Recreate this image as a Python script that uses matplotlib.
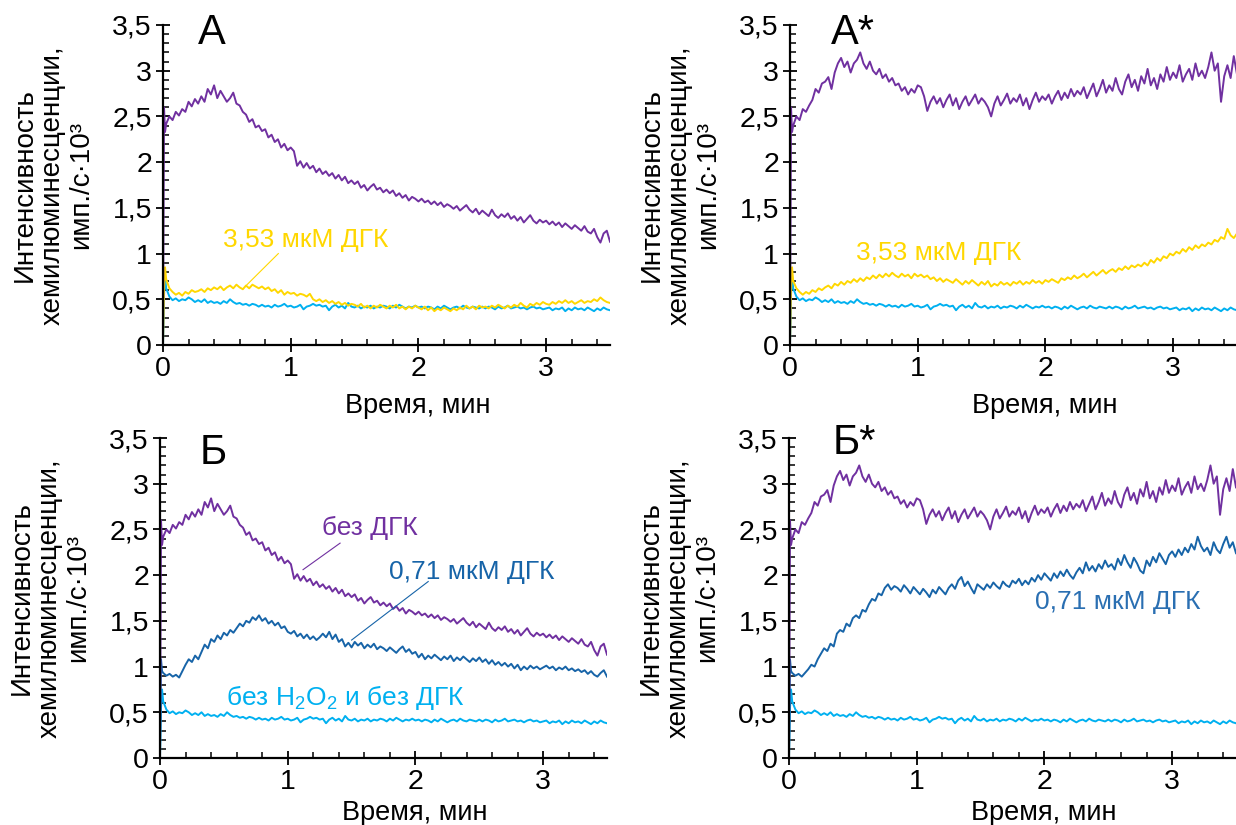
import numpy as np
import matplotlib
matplotlib.use("Agg")
import matplotlib.pyplot as plt
from matplotlib.ticker import MultipleLocator, FuncFormatter

plt.rcParams['font.family'] = ['Liberation Sans', 'DejaVu Sans']
plt.rcParams['mathtext.fontset'] = 'custom'
plt.rcParams['mathtext.rm'] = 'Liberation Sans'
plt.rcParams['mathtext.it'] = 'Liberation Sans'

# time, min: start of the record, then a regular 0.025 min grid
t_head = [0.0, 0.008, 0.016]
t_grid = np.round(np.arange(0.025, 3.5001, 0.025), 3)
t = np.concatenate([t_head, t_grid])

# chemiluminescence, imp/s*10^3
purple_a = [0.05, 2.60, 2.33,
    2.42, 2.50, 2.46, 2.55, 2.51, 2.58, 2.55, 2.66, 2.61, 2.69,
    2.64, 2.72, 2.66, 2.80, 2.74, 2.84, 2.70, 2.78, 2.72, 2.66,
    2.70, 2.76, 2.64, 2.62, 2.55, 2.52, 2.44, 2.47, 2.38, 2.40,
    2.34, 2.36, 2.27, 2.30, 2.22, 2.25, 2.16, 2.20, 2.13, 2.16,
    2.12, 1.96, 2.01, 1.94, 1.99, 1.93, 1.96, 1.89, 1.93, 1.87,
    1.90, 1.85, 1.88, 1.82, 1.86, 1.80, 1.84, 1.77, 1.80, 1.76,
    1.79, 1.72, 1.75, 1.69, 1.73, 1.76, 1.70, 1.72, 1.67, 1.70,
    1.66, 1.69, 1.63, 1.66, 1.61, 1.64, 1.58, 1.62, 1.60, 1.57,
    1.60, 1.56, 1.58, 1.54, 1.57, 1.53, 1.56, 1.51, 1.54, 1.52,
    1.49, 1.52, 1.47, 1.50, 1.53, 1.48, 1.45, 1.49, 1.43, 1.47,
    1.44, 1.41, 1.48, 1.42, 1.39, 1.43, 1.40, 1.44, 1.38, 1.41,
    1.36, 1.40, 1.34, 1.38, 1.42, 1.36, 1.33, 1.37, 1.34, 1.36,
    1.32, 1.35, 1.31, 1.34, 1.29, 1.33, 1.30, 1.27, 1.31, 1.28,
    1.25, 1.30, 1.24, 1.22, 1.27, 1.18, 1.12, 1.22, 1.25, 1.13]

yellow_a = [0.02, 0.60, 0.85,
    0.72, 0.62, 0.58, 0.55, 0.57, 0.54, 0.58, 0.56, 0.60, 0.58,
    0.59, 0.61, 0.58, 0.62, 0.60, 0.63, 0.61, 0.64, 0.60, 0.63,
    0.65, 0.62, 0.66, 0.63, 0.61, 0.65, 0.62, 0.66, 0.64, 0.62,
    0.64, 0.61, 0.63, 0.59, 0.61, 0.57, 0.60, 0.55, 0.58, 0.56,
    0.57, 0.54, 0.56, 0.55, 0.53, 0.56, 0.50, 0.48, 0.50, 0.47,
    0.49, 0.46, 0.48, 0.45, 0.47, 0.44, 0.46, 0.43, 0.45, 0.44,
    0.42, 0.45, 0.41, 0.43, 0.40, 0.43, 0.41, 0.44, 0.42, 0.40,
    0.43, 0.41, 0.44, 0.40, 0.42, 0.39, 0.42, 0.40, 0.43, 0.41,
    0.39, 0.42, 0.38, 0.41, 0.37, 0.40, 0.38, 0.41, 0.39, 0.37,
    0.40, 0.38, 0.41, 0.39, 0.43, 0.40, 0.42, 0.39, 0.43, 0.41,
    0.42, 0.40, 0.43, 0.41, 0.44, 0.42, 0.40, 0.43, 0.41, 0.44,
    0.42, 0.46, 0.43, 0.41, 0.45, 0.43, 0.46, 0.44, 0.47, 0.45,
    0.44, 0.47, 0.45, 0.48, 0.46, 0.49, 0.46, 0.48, 0.45, 0.47,
    0.49, 0.46, 0.48, 0.47, 0.50, 0.48, 0.52, 0.49, 0.47, 0.46]

lightblue = [0.0, 0.55, 0.75,
    0.62, 0.53, 0.49, 0.51, 0.48, 0.50, 0.49, 0.52, 0.50, 0.47,
    0.49, 0.47, 0.50, 0.46, 0.48, 0.46, 0.47, 0.45, 0.48, 0.46,
    0.50, 0.47, 0.45, 0.46, 0.44, 0.45, 0.43, 0.45, 0.44, 0.42,
    0.44, 0.42, 0.43, 0.41, 0.44, 0.42, 0.43, 0.45, 0.42, 0.43,
    0.41, 0.42, 0.44, 0.39, 0.42, 0.43, 0.45, 0.43, 0.44, 0.42,
    0.43, 0.38, 0.42, 0.44, 0.41, 0.43, 0.40, 0.46, 0.42, 0.41,
    0.43, 0.40, 0.42, 0.41, 0.43, 0.40, 0.42, 0.41, 0.43, 0.42,
    0.40, 0.43, 0.41, 0.44, 0.42, 0.40, 0.42, 0.41, 0.43, 0.41,
    0.42, 0.40, 0.42, 0.41, 0.39, 0.42, 0.40, 0.43, 0.41, 0.39,
    0.41, 0.42, 0.40, 0.43, 0.41, 0.40, 0.42, 0.41, 0.40, 0.42,
    0.40, 0.42, 0.41, 0.39, 0.42, 0.40, 0.41, 0.43, 0.40, 0.41,
    0.42, 0.40, 0.41, 0.39, 0.41, 0.42, 0.40, 0.41, 0.39, 0.40,
    0.41, 0.38, 0.40, 0.39, 0.41, 0.37, 0.40, 0.38, 0.41, 0.39,
    0.40, 0.38, 0.41, 0.39, 0.37, 0.40, 0.38, 0.41, 0.39, 0.38]

purple_as = [0.05, 2.60, 2.33,
    2.40, 2.50, 2.46, 2.58, 2.55, 2.62, 2.68, 2.80, 2.76, 2.86,
    2.88, 2.93, 2.80, 2.98, 3.08, 3.14, 3.04, 3.10, 2.98, 3.08,
    3.12, 3.20, 3.08, 3.02, 3.10, 3.00, 2.96, 3.02, 2.92, 2.96,
    2.88, 2.92, 2.84, 2.86, 2.78, 2.82, 2.74, 2.80, 2.76, 2.84,
    2.82, 2.72, 2.56, 2.66, 2.72, 2.64, 2.70, 2.60, 2.68, 2.74,
    2.62, 2.70, 2.58, 2.66, 2.72, 2.62, 2.68, 2.74, 2.64, 2.70,
    2.66, 2.60, 2.50, 2.64, 2.72, 2.62, 2.68, 2.75, 2.64, 2.70,
    2.66, 2.74, 2.62, 2.70, 2.58, 2.68, 2.76, 2.66, 2.72, 2.68,
    2.74, 2.64, 2.72, 2.78, 2.68, 2.76, 2.70, 2.80, 2.72, 2.78,
    2.74, 2.82, 2.70, 2.78, 2.86, 2.72, 2.80, 2.90, 2.76, 2.84,
    2.78, 2.92, 2.80, 2.74, 2.88, 2.96, 2.82, 2.90, 2.78, 2.94,
    2.86, 3.02, 2.84, 2.92, 2.80, 2.96, 2.88, 3.04, 2.90, 2.98,
    2.92, 3.06, 2.88, 2.96, 3.02, 2.90, 3.08, 2.94, 3.00, 2.92,
    3.04, 3.20, 3.00, 3.08, 2.66, 2.94, 3.06, 2.92, 3.16, 2.96]

yellow_as = [0.02, 0.60, 0.85,
    0.70, 0.62, 0.58, 0.55, 0.58, 0.56, 0.60, 0.58, 0.62, 0.60,
    0.63, 0.65, 0.62, 0.67, 0.65, 0.69, 0.66, 0.70, 0.68, 0.72,
    0.69, 0.73, 0.70, 0.74, 0.72, 0.76, 0.73, 0.77, 0.74, 0.78,
    0.75, 0.79, 0.76, 0.74, 0.78, 0.75, 0.77, 0.73, 0.78, 0.75,
    0.77, 0.74, 0.76, 0.72, 0.74, 0.70, 0.73, 0.69, 0.72, 0.70,
    0.68, 0.72, 0.69, 0.66, 0.70, 0.67, 0.71, 0.68, 0.65, 0.69,
    0.66, 0.70, 0.64, 0.67, 0.65, 0.69, 0.66, 0.68, 0.65, 0.69,
    0.67, 0.70, 0.66, 0.69, 0.67, 0.71, 0.68, 0.70, 0.67, 0.71,
    0.69, 0.72, 0.70, 0.68, 0.73, 0.71, 0.74, 0.72, 0.76, 0.73,
    0.75, 0.78, 0.74, 0.77, 0.80, 0.76, 0.79, 0.82, 0.78, 0.81,
    0.83, 0.80, 0.84, 0.82, 0.86, 0.83, 0.87, 0.85, 0.88, 0.86,
    0.90, 0.87, 0.93, 0.90, 0.95, 0.92, 0.97, 0.95, 1.00, 0.98,
    1.02, 1.00, 1.05, 1.02, 1.07, 1.04, 1.09, 1.06, 1.10, 1.08,
    1.12, 1.10, 1.15, 1.13, 1.18, 1.16, 1.27, 1.20, 1.17, 1.22]

darkblue_b = [0.05, 1.08, 0.95,
    0.93, 0.90, 0.92, 0.89, 0.91, 0.88, 0.95, 1.02, 1.08, 1.05,
    1.12, 1.08, 1.16, 1.24, 1.20, 1.30, 1.27, 1.34, 1.30, 1.37,
    1.34, 1.40, 1.37, 1.42, 1.47, 1.44, 1.50, 1.48, 1.54, 1.51,
    1.56, 1.50, 1.53, 1.47, 1.50, 1.45, 1.48, 1.42, 1.44, 1.38,
    1.36, 1.39, 1.33, 1.36, 1.31, 1.35, 1.30, 1.33, 1.29, 1.32,
    1.36, 1.32, 1.38, 1.30, 1.35, 1.27, 1.30, 1.22, 1.26, 1.21,
    1.27, 1.23, 1.26, 1.20, 1.24, 1.21, 1.25, 1.19, 1.22, 1.20,
    1.17, 1.21, 1.18, 1.15, 1.19, 1.22, 1.16, 1.19, 1.14, 1.16,
    1.10, 1.14, 1.08, 1.12, 1.09, 1.13, 1.10, 1.07, 1.11, 1.08,
    1.12, 1.06, 1.10, 1.07, 1.11, 1.08, 1.05, 1.09, 1.06, 1.10,
    1.05, 1.08, 1.03, 1.07, 1.02, 1.05, 1.01, 1.04, 1.00, 1.03,
    0.98, 1.02, 0.96, 1.00, 0.97, 1.01, 0.98, 1.00, 0.97, 0.99,
    1.01, 0.98, 1.00, 0.96, 0.99, 0.97, 1.00, 0.96, 0.98, 0.95,
    0.97, 0.94, 0.96, 0.92, 0.95, 0.91, 0.89, 0.93, 0.96, 0.89]

darkblue_bs = [0.05, 1.08, 0.95,
    0.93, 0.90, 0.92, 0.89, 0.93, 0.97, 1.02, 1.00, 1.08, 1.14,
    1.20, 1.17, 1.25, 1.22, 1.36, 1.40, 1.38, 1.47, 1.44, 1.53,
    1.56, 1.53, 1.62, 1.60, 1.68, 1.74, 1.72, 1.80, 1.78, 1.86,
    1.90, 1.84, 1.88, 1.86, 1.82, 1.89, 1.85, 1.80, 1.87, 1.83,
    1.79, 1.85, 1.81, 1.76, 1.84, 1.80, 1.87, 1.83, 1.79, 1.86,
    1.90, 1.85, 1.94, 1.98, 1.88, 1.93, 1.86, 1.80, 1.90, 1.87,
    1.84, 1.90, 1.86, 1.92, 1.88, 1.85, 1.93, 1.89, 1.87, 1.94,
    1.91, 1.96, 1.89, 1.94, 1.90, 1.97, 1.93, 2.00, 1.95, 2.02,
    1.98, 1.94, 2.02, 1.97, 2.04, 1.99, 2.06, 2.00, 1.96, 2.03,
    2.08, 2.02, 2.14, 2.05, 2.10, 2.04, 2.12, 2.07, 2.16, 2.09,
    2.12, 2.06, 2.18, 2.11, 2.22, 2.14, 2.08, 2.19, 2.13, 2.05,
    2.02, 2.16, 2.10, 2.20, 2.14, 2.24, 2.18, 2.12, 2.22, 2.26,
    2.20, 2.28, 2.22, 2.30, 2.25, 2.34, 2.28, 2.42, 2.32, 2.26,
    2.30, 2.22, 2.36, 2.28, 2.24, 2.34, 2.42, 2.30, 2.36, 2.24]

c_purple = '#7030A0'
c_yellow = '#FFD700'
c_light = '#00B0F0'
c_dark = '#1764A8'

W, H = 1236, 825
fig = plt.figure(figsize=(W / 100, H / 100), dpi=100)

def make_axes(left_px, zero_px, top_px):
    w = 447
    return fig.add_axes([left_px / W, 1 - zero_px / H, w / W, (zero_px - top_px) / H])

ax_a = make_axes(163, 345, 25)
ax_as = make_axes(790, 345, 25)
ax_b = make_axes(160, 758, 438)
ax_bs = make_axes(789, 758, 438)

comma = FuncFormatter(lambda v, pos: f"{v:g}".replace('.', ','))
lw = 1.4

for ax in (ax_a, ax_as, ax_b, ax_bs):
    ax.set_xlim(0, 3.5)
    ax.set_ylim(0, 3.5)
    for s in ('top', 'right'):
        ax.spines[s].set_visible(False)
    for s in ('left', 'bottom'):
        ax.spines[s].set_linewidth(1.6)
    ax.xaxis.set_major_locator(MultipleLocator(1))
    ax.xaxis.set_minor_locator(MultipleLocator(0.2))
    ax.yaxis.set_major_locator(MultipleLocator(0.5))
    ax.yaxis.set_minor_locator(MultipleLocator(0.1))
    ax.yaxis.set_major_formatter(comma)
    ax.xaxis.set_major_formatter(comma)
    ax.tick_params(which='major', direction='inout', length=10, width=1.3, labelsize=20.5, pad=3)
    ax.tick_params(which='minor', direction='in', length=4, width=1.1)
    ax.text(-0.246, 0.5, 'Интенсивность\nхемилюминесценции,\nимп./с·10³', transform=ax.transAxes,
            rotation=90, ha='center', va='center', multialignment='center', fontsize=20, linespacing=1.1)

for ax in (ax_a, ax_as):
    ax.text(0.57, -0.19, 'Время, мин', transform=ax.transAxes, ha='center', va='center', fontsize=19.5)
for ax in (ax_b, ax_bs):
    ax.text(0.57, -0.172, 'Время, мин', transform=ax.transAxes, ha='center', va='center', fontsize=19.5)

# A
ax_a.plot(t, lightblue, color=c_light, lw=lw)
ax_a.plot(t, yellow_a, color=c_yellow, lw=lw)
ax_a.plot(t, purple_a, color=c_purple, lw=lw)
ax_a.text(0.27, 3.41, 'А', fontsize=30, va='center', ha='left')
ax_a.text(0.47, 1.15, '3,53 мкМ ДГК', color=c_yellow, fontsize=19, va='center', ha='left')
ax_a.plot([0.903, 0.655], [1.0, 0.656], color=c_yellow, lw=0.8)

# A*
ax_as.plot(t, lightblue, color=c_light, lw=lw)
ax_as.plot(t, yellow_as, color=c_yellow, lw=lw)
ax_as.plot(t, purple_as, color=c_purple, lw=lw)
ax_as.text(0.32, 3.41, 'А*', fontsize=30, va='center', ha='left')
ax_as.text(0.52, 1.01, '3,53 мкМ ДГК', color=c_yellow, fontsize=19, va='center', ha='left')

# Б
ax_b.plot(t, lightblue, color=c_light, lw=lw)
ax_b.plot(t, darkblue_b, color=c_dark, lw=lw)
ax_b.plot(t, purple_a, color=c_purple, lw=lw)
ax_b.text(0.31, 3.34, 'Б', fontsize=30, va='center', ha='left')
ax_b.text(1.27, 2.52, 'без ДГК', color=c_purple, fontsize=19, va='center', ha='left')
ax_b.plot([1.41, 1.12], [2.35, 2.06], color=c_purple, lw=0.8)
ax_b.text(1.79, 2.03, '0,71 мкМ ДГК', color=c_dark, fontsize=19, va='center', ha='left')
ax_b.plot([2.10, 1.50], [1.93, 1.29], color=c_dark, lw=0.8)
ax_b.text(0.52, 0.66, 'без H$_2$O$_2$ и без ДГК', color=c_light, fontsize=19, va='center', ha='left')

# Б*
ax_bs.plot(t, lightblue, color=c_light, lw=lw)
ax_bs.plot(t, darkblue_bs, color=c_dark, lw=lw)
ax_bs.plot(t, purple_as, color=c_purple, lw=lw)
ax_bs.text(0.34, 3.45, 'Б*', fontsize=30, va='center', ha='left')
ax_bs.text(1.93, 1.71, '0,71 мкМ ДГК', color='#2A6FB2', fontsize=19, va='center', ha='left')

fig.savefig('out.png', dpi=100)
